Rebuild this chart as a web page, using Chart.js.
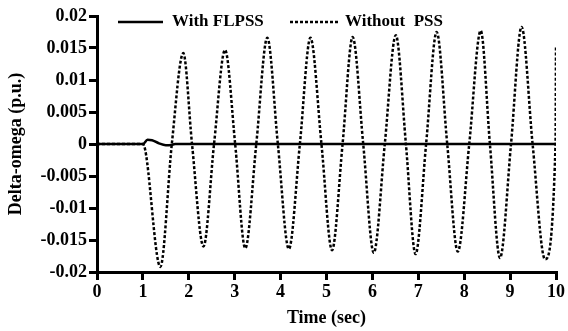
<!DOCTYPE html>
<html>
<head>
<meta charset="utf-8">
<script src="https://cdn.jsdelivr.net/npm/chart.js@4"></script>
<style>
  html, body { margin: 0; padding: 0; background: #fff; }
  canvas { display: block; }
</style>
</head>
<body>
<canvas id="omegaChart" width="568" height="331"></canvas>
<script>
// values
const flpssTime = [0, 1.0, 1.1, 1.2, 1.35, 1.5, 1.62, 1.7, 10];
const flpssOmega = [0, 0, 0.00065, 0.0006, 0.0001, -0.00018, -0.00015, 0, 0];

const noPssTime = [0, 1.0, 1.38, 1.63, 1.88, 2.07, 2.32, 2.55, 2.79, 3.01, 3.23, 3.47, 3.71, 3.94,
    4.18, 4.42, 4.65, 4.89, 5.12, 5.35, 5.57, 5.8, 6.03, 6.27, 6.51, 6.73, 6.94, 7.17, 7.4,
    7.63, 7.86, 8.11, 8.36, 8.56, 8.78, 9.02, 9.25, 9.49, 9.76, 9.99, 10];
const noPssOmega = [0, 0, -0.0192, 0, 0.0142, 0, -0.016, 0, 0.0147, 0, -0.0163, 0, 0.0166, 0,
    -0.0164, 0, 0.0166, 0, -0.0166, 0, 0.0167, 0, -0.017, 0, 0.017, 0, -0.0172, 0, 0.0175,
    0, -0.0168, 0, 0.0177, 0, -0.0178, 0, 0.0183, 0, -0.018, 0, 0.0153];

const seriesNames = ['With FLPSS', 'Without  PSS'];
const xTickLabels = ['0', '1', '2', '3', '4', '5', '6', '7', '8', '9', '10'];
const yTickLabels = ['-0.02', '-0.015', '-0.01', '-0.005', '0', '0.005', '0.01', '0.015', '0.02'];

const toPoints = (xs, ys) => xs.map((x, i) => ({ x: x, y: ys[i] }));

const serif = { family: '"Liberation Serif", "DejaVu Serif", serif', size: 18, weight: 'bold' };

// legend drawn inside the plot area, like the original figure
const insideLegend = {
    id: 'insideLegend',
    afterDraw(chart) {
        const ctx = chart.ctx;
        const items = [
            { x0: 118, x1: 163, tx: 172 },
            { x0: 290, x1: 338, tx: 345 }
        ];
        const y = 22;
        ctx.save();
        chart.data.datasets.forEach((ds, i) => {
            const it = items[i];
            ctx.strokeStyle = ds.borderColor;
            ctx.lineWidth = ds.borderWidth;
            ctx.setLineDash(ds.borderDash || []);
            ctx.beginPath();
            ctx.moveTo(it.x0, y);
            ctx.lineTo(it.x1, y);
            ctx.stroke();
            ctx.setLineDash([]);
            ctx.fillStyle = '#000';
            ctx.font = 'bold 17px "Liberation Serif", serif';
            ctx.textBaseline = 'middle';
            ctx.fillText(ds.label, it.tx, y);
        });
        ctx.restore();
    }
};

new Chart(document.getElementById('omegaChart'), {
    type: 'line',
    data: {
        datasets: [
            {
                label: seriesNames[0],
                data: toPoints(flpssTime, flpssOmega),
                borderColor: '#000',
                borderWidth: 2.5,
                pointRadius: 0,
                cubicInterpolationMode: 'monotone'
            },
            {
                label: seriesNames[1],
                data: toPoints(noPssTime, noPssOmega),
                borderColor: '#000',
                borderWidth: 2.5,
                borderDash: [3, 2],
                pointRadius: 0,
                cubicInterpolationMode: 'monotone'
            }
        ]
    },
    options: {
        responsive: false,
        animation: false,
        layout: { padding: { left: 0, top: 16, right: 12, bottom: 0 } },
        plugins: {
            legend: { display: false },
            tooltip: { enabled: false }
        },
        scales: {
            x: {
                type: 'linear',
                min: 0,
                max: 10,
                ticks: {
                    stepSize: 1,
                    color: '#000',
                    font: serif,
                    padding: 2,
                    maxRotation: 0,
                    callback: (v, i) => xTickLabels[i]
                },
                grid: { drawOnChartArea: false, drawTicks: true, tickLength: 8, lineWidth: 3, color: '#000' },
                border: { display: true, width: 3, color: '#000' },
                title: { display: true, text: 'Time (sec)', color: '#000', font: serif, padding: { top: 0, bottom: 2 } },
                afterFit: (scale) => { scale.height = 59; }
            },
            y: {
                min: -0.02,
                max: 0.02,
                ticks: {
                    stepSize: 0.005,
                    color: '#000',
                    font: serif,
                    padding: 2,
                    callback: (v, i) => yTickLabels[i]
                },
                grid: { drawOnChartArea: false, drawTicks: true, tickLength: 8, lineWidth: 3, color: '#000' },
                border: { display: true, width: 3, color: '#000' },
                title: { display: true, text: 'Delta-omega (p.u.)', color: '#000', font: serif, padding: { top: 6, bottom: 0 } },
                afterFit: (scale) => { scale.width = 97; }
            }
        }
    },
    plugins: [insideLegend]
});
</script>
</body>
</html>
